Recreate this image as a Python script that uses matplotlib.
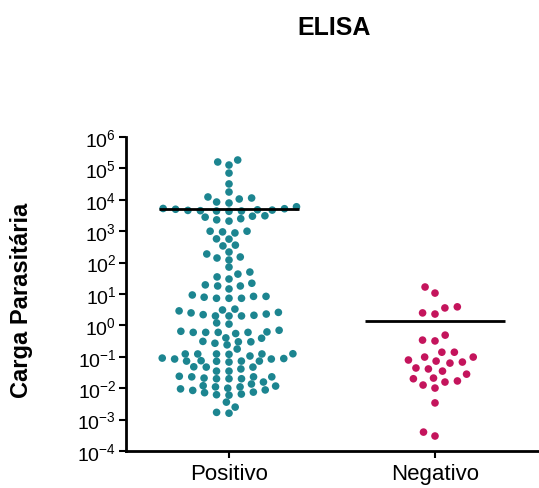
import numpy as np
import matplotlib
matplotlib.use("Agg")
import matplotlib.pyplot as plt
from matplotlib.ticker import NullLocator

plt.rcParams['font.family'] = ['Liberation Sans', 'DejaVu Sans']

# -------------------------------
# DATA
# -------------------------------
groups = ["Positivo", "Negativo"]

positivo = [
    1.85e5, 1.6e5, 1.28e5, 7.1e4, 3.2e4,
    1.77e4, 1.23e4, 1.14e4, 1.06e4, 8.5e3, 7.9e3,
    6.0e3, 5.2e3, 4.8e3, 4.6e3, 4.4e3, 4.3e3, 4.5e3, 4.4e3, 4.7e3, 5.0e3, 5.3e3,
    3.0e3, 2.5e3, 2.1e3, 2.3e3, 2.8e3, 3.1e3,
    1.0e3, 950, 880, 1.0e3,
    560, 570, 360, 340,
    217, 188, 151, 140, 121,
    72, 50, 43, 35, 30, 22,
    19.5, 18, 18, 14.5,
    8.4, 7.3, 7.3, 7.3, 7.9, 8.4, 9.3,
    3.3, 2.9, 2.5, 2.2, 2.0, 2.0, 2.0, 2.1, 2.3, 2.6, 3.1,
    1.2, 1.1,
    0.70, 0.60, 0.60, 0.60, 0.55, 0.60, 0.62, 0.65,
    0.40, 0.39,
    0.31, 0.30, 0.24, 0.27, 0.30,
    0.091, 0.035, 0.123, 0.085, 0.023, 0.123, 0.073, 0.020, 0.123, 0.073,
    0.047, 0.020, 0.0117, 0.177, 0.106, 0.068, 0.041, 0.024, 0.0157, 0.123,
    0.073, 0.047, 0.023, 0.0136, 0.12, 0.075, 0.048, 0.020, 0.012, 0.125,
    0.072, 0.021, 0.085, 0.023, 0.088, 0.035,
    0.011, 0.0095, 0.0085, 0.0072, 0.0062, 0.0060, 0.0065, 0.0075, 0.0088, 0.0100, 0.011,
    0.0036, 0.0025, 0.0017, 0.0016,
]

negativo = [
    16.7, 10.7, 3.6, 2.3, 2.5, 3.9,
    0.49, 0.34, 0.32,
    0.14, 0.098, 0.098, 0.14,
    0.079, 0.073, 0.063, 0.068,
    0.044, 0.035, 0.028, 0.041,
    0.020, 0.0157, 0.0101, 0.0126, 0.017, 0.021,
    0.0034,
    0.0004, 0.0003,
]

colors = ["#1c8590", "#c4145c"]
swarm_h = [7.0, 10.0]   # vertical collision distance (px) per group


# -------------------------------
# SWARM LAYOUT (pixel space)
# -------------------------------
def swarm_offsets(y_px, w, h):
    order = np.argsort(y_px)
    placed = []
    xs = np.zeros(len(y_px))
    for i in order:
        y = y_px[i]
        near = [(px, py) for px, py in placed if abs(py - y) < h]
        cands = [0.0]
        for px, py in near:
            dx = w * np.sqrt(1 - ((py - y) / h) ** 2)
            cands += [px - dx, px + dx]
        cands.sort(key=abs)
        for c in cands:
            if all(((c - px) / w) ** 2 + ((y - py) / h) ** 2 >= 0.999 for px, py in near):
                xs[i] = c
                break
        placed.append((xs[i], y))
    return xs


fig = plt.figure(figsize=(5.39, 4.89), dpi=100)
ax = fig.add_axes([126 / 539, 37 / 489, 412 / 539, 314 / 489])
ax.set_yscale('log')
ax.set_ylim(1e-4, 1e6)
ax.set_xlim(-0.5, 1.5)

unit_px = ax.transData.transform((1, 1))[0] - ax.transData.transform((0, 1))[0]

for i, vals in enumerate([positivo, negativo]):
    vals = np.array(vals)
    pts = ax.transData.transform(np.column_stack([np.full(len(vals), i), vals]))
    off = swarm_offsets(pts[:, 1], 12.5, swarm_h[i])
    ax.scatter(i + off / unit_px, vals, s=30, color=colors[i],
               edgecolors='none', zorder=3)
    # line at the group mean
    ax.hlines(np.mean(vals), i - 0.34, i + 0.34, color='black', lw=2, zorder=4)

ax.set_yticks([10.0 ** k for k in range(-4, 7)])
ax.yaxis.set_minor_locator(NullLocator())
ax.set_xticks([0, 1])
ax.set_xticklabels(groups)

ax.tick_params(axis='y', direction='out', length=5, width=1.5, labelsize=14, pad=2)
ax.tick_params(axis='x', direction='out', length=5, width=1.5, labelsize=16, pad=4)
for s in ['top', 'right']:
    ax.spines[s].set_visible(False)
for s in ['left', 'bottom']:
    ax.spines[s].set_linewidth(2)

fig.text(22 / 539, 1 - 300 / 489, "Carga Parasitária", rotation=90,
         ha='center', va='center', fontsize=17, fontweight='bold')
fig.text(334 / 539, 1 - 28 / 489, "ELISA", ha='center', va='center',
         fontsize=18, fontweight='bold')

fig.savefig("out.png", dpi=100)
